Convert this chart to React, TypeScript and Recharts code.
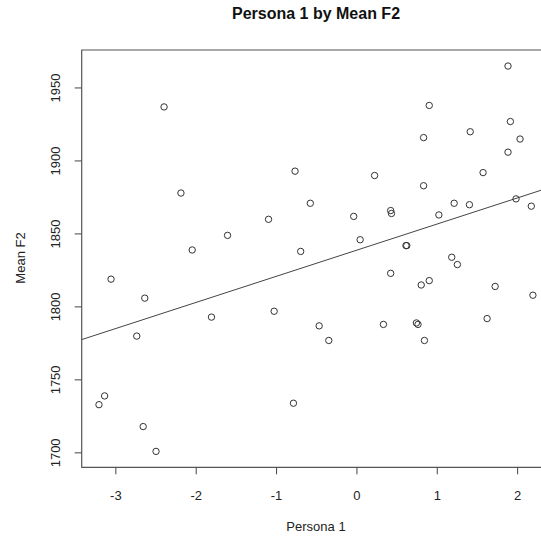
import React from 'react';
import {
  ScatterChart,
  Scatter,
  XAxis,
  YAxis,
  ReferenceArea,
  ReferenceLine,
} from 'recharts';

const persona1 = [
  -2.40, -2.19, -1.61, -2.05, -0.77, 0.22, -0.58, -1.10, -0.04, 0.04,
  -0.70, 1.88, 0.90, 1.91, 0.83, 1.41, 2.03, 1.88, 1.57, 0.83,
  0.42, 0.43, 1.98, 2.17, 1.21, 1.40, 1.02, 0.61, 0.62, 1.18,
  1.25, 0.42, 0.80, 0.90, 1.72, 2.19, 0.33, 0.74, 0.76, 0.84,
  1.62, -1.03, -0.47, -0.35, -0.79, -3.06, -2.64, -1.81, -2.74, -3.14,
  -3.21, -2.66, -2.50,
];

// Mean F2 for each observation
const meanF2 = [
  1937, 1878, 1849, 1839, 1893, 1890, 1871, 1860, 1862, 1846,
  1838, 1965, 1938, 1927, 1916, 1920, 1915, 1906, 1892, 1883,
  1866, 1864, 1874, 1869, 1871, 1870, 1863, 1842, 1842, 1834,
  1829, 1823, 1815, 1818, 1814, 1808, 1788, 1789, 1788, 1777,
  1792, 1797, 1787, 1777, 1734, 1819, 1806, 1793, 1780, 1739,
  1733, 1718, 1701,
];

const xTicks = [-3, -2, -1, 0, 1, 2];
const yTicks = [1700, 1750, 1800, 1850, 1900, 1950];

// fitted line (lm)
const fitIntercept = 1838.9;
const fitSlope = 17.9;

const xDomain: [number, number] = [-3.425, 2.404];
const yDomain: [number, number] = [1690.1, 1976];

const points = persona1.map((x, i) => ({ x, y: meanF2[i] }));

const font = '"Liberation Sans", Arial, Helvetica, sans-serif';

const RingDot = (props: any) => {
  const { cx, cy } = props;
  if (cx == null || cy == null) return null;
  return <circle cx={cx} cy={cy} r={3.2} fill="none" stroke="#333" strokeWidth={1} />;
};

const YTick = (props: any) => {
  const { x, y, payload } = props;
  return (
    <text
      x={x}
      y={y}
      transform={`rotate(-90, ${x}, ${y})`}
      textAnchor="middle"
      fontSize={13}
      fontFamily={font}
      fill="#222"
    >
      {payload.value}
    </text>
  );
};

const App: React.FC = () => {
  return (
    <div
      style={{
        position: 'absolute',
        left: 0,
        top: 0,
        width: 541,
        height: 539,
        overflow: 'hidden',
        background: '#fff',
        fontFamily: font,
      }}
    >
      <div
        style={{
          position: 'absolute',
          left: 82,
          width: 468,
          top: 5,
          textAlign: 'center',
          fontSize: 16,
          fontWeight: 'bold',
          color: '#111',
        }}
      >
        Persona 1 by Mean F2
      </div>
      <div
        style={{
          position: 'absolute',
          left: 20,
          top: 258,
          transform: 'translate(-50%, -50%) rotate(-90deg)',
          fontSize: 13,
          color: '#222',
          whiteSpace: 'nowrap',
        }}
      >
        Mean F2
      </div>
      <div
        style={{
          position: 'absolute',
          left: 82,
          width: 468,
          top: 519,
          textAlign: 'center',
          fontSize: 13,
          color: '#222',
        }}
      >
        Persona 1
      </div>
      <div style={{ position: 'absolute', left: 0, top: 0 }}>
        <ScatterChart
          width={560}
          height={539}
          margin={{ top: 50, right: 9.9, bottom: 41.7, left: 0 }}
        >
          <XAxis
            type="number"
            dataKey="x"
            domain={xDomain}
            ticks={xTicks}
            allowDataOverflow
            axisLine={false}
            tickLine={{ stroke: '#444' }}
            tickSize={7}
            tickMargin={16}
            height={30}
            tick={{ fontSize: 13, fontFamily: font, fill: '#222' }}
          />
          <YAxis
            type="number"
            dataKey="y"
            domain={yDomain}
            ticks={yTicks}
            allowDataOverflow
            axisLine={false}
            tickLine={{ stroke: '#444' }}
            tickSize={7}
            tickMargin={14.5}
            width={81.7}
            tick={<YTick />}
          />
          <ReferenceArea
            x1={xDomain[0]}
            x2={xDomain[1]}
            y1={yDomain[0]}
            y2={yDomain[1]}
            fill="none"
            stroke="#555"
            strokeWidth={1.2}
          />
          <ReferenceLine
            segment={[
              { x: xDomain[0], y: fitIntercept + fitSlope * xDomain[0] },
              { x: xDomain[1], y: fitIntercept + fitSlope * xDomain[1] },
            ]}
            stroke="#444"
            strokeWidth={1}
          />
          <Scatter data={points} shape={<RingDot />} isAnimationActive={false} />
        </ScatterChart>
      </div>
    </div>
  );
};

export default App;
